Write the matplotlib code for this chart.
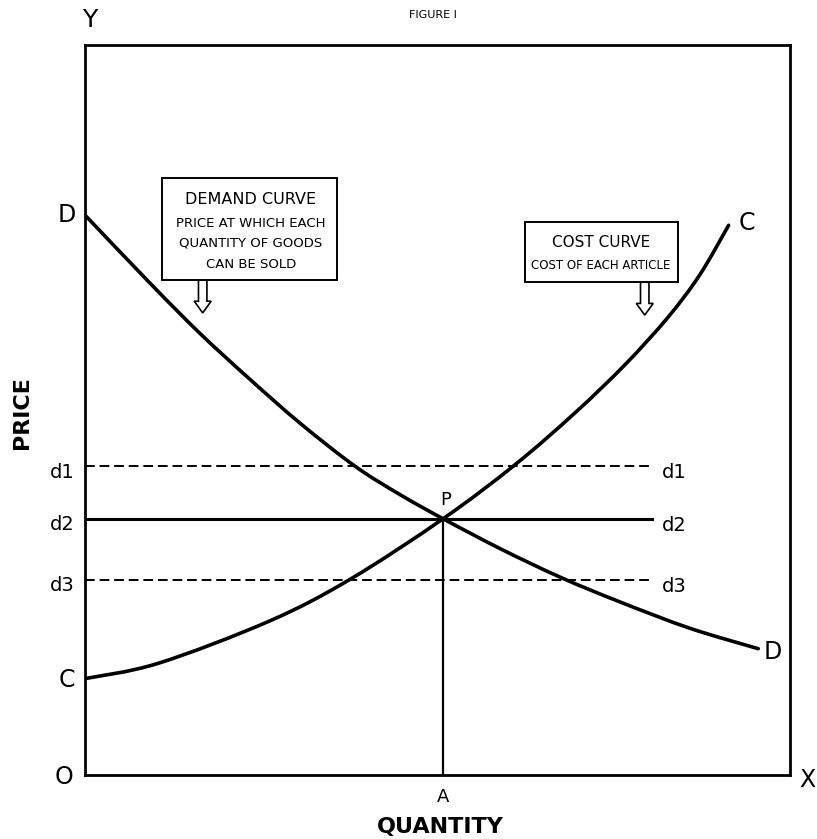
import numpy as np
import matplotlib.pyplot as plt
from matplotlib.patches import Rectangle, FancyArrow, PathPatch
from matplotlib.path import Path

# кривая спроса (количество, цена) в условных единицах 0..100
demand_q = [0, 9.2, 16.3, 23.4, 30.5, 38.3, 44.7, 50.8, 58.9, 67.4, 75.9, 85.8, 95.5]
demand_p = [76.7, 67.4, 60.5, 54.2, 48.2, 42.3, 38.4, 35.1, 31.0, 27.1, 23.7, 20.1, 17.3]

# кривая издержек
cost_q = [0, 10.4, 26.2, 37.6, 50.8, 61.0, 69.5, 76.6, 82.7, 87.2, 91.3]
cost_p = [13.2, 15.3, 21.1, 26.8, 35.1, 42.5, 49.6, 56.2, 62.7, 68.5, 75.3]

# уровни цен d1, d2, d3
levels = [42.3, 35.1, 26.7]
level_names = ['d1', 'd2', 'd3']
level_styles = ['--', '-', '--']
level_end = 80.4

# точка равновесия P
p_q, p_p = 50.8, 35.1


def smooth_path(xs, ys):
    # гладкая кривая через точки (Катмулл-Ром -> кривые Безье)
    pts = np.column_stack([xs, ys])
    n = len(pts)
    verts = [pts[0]]
    codes = [Path.MOVETO]
    for i in range(n - 1):
        p0 = pts[i - 1] if i > 0 else pts[i]
        p1 = pts[i]
        p2 = pts[i + 1]
        p3 = pts[i + 2] if i + 2 < n else pts[i + 1]
        c1 = p1 + (p2 - p0) / 6
        c2 = p2 - (p3 - p1) / 6
        verts += [c1, c2, p2]
        codes += [Path.CURVE4] * 3
    return Path(verts, codes)


fig = plt.figure(figsize=(8.17, 8.39), dpi=100)
ax = fig.add_axes([0.104, 0.0763, 0.8629, 0.8701])
ax.set_xlim(0, 100)
ax.set_ylim(0, 100)
ax.set_xticks([])
ax.set_yticks([])
for s in ax.spines.values():
    s.set_linewidth(2.0)
    s.set_color('black')

for xs, ys in [(demand_q, demand_p), (cost_q, cost_p)]:
    ax.add_patch(PathPatch(smooth_path(xs, ys), fc='none', ec='black', lw=2.6,
                           joinstyle='round', capstyle='round'))

for lv, ls in zip(levels, level_styles):
    if ls == '-':
        ax.plot([0, level_end], [lv, lv], color='black', linewidth=2.2)
    else:
        ax.plot([0, level_end], [lv, lv], color='black', linewidth=1.4, dashes=(5, 2.5))

ax.plot([p_q, p_q], [0, p_p], 'k-', linewidth=1.6)

# подписи
fs = 17
ax.text(0.7, 103.4, 'Y', fontsize=18, ha='center', va='center', clip_on=False)
ax.text(49.4, 104.1, 'FIGURE I', fontsize=8, ha='center', va='center', clip_on=False)
ax.text(-2.6, 76.7, 'D', fontsize=fs, ha='center', va='center', clip_on=False)
ax.text(-2.6, 13.0, 'C', fontsize=fs, ha='center', va='center', clip_on=False)
ax.text(-3.0, -0.3, 'O', fontsize=fs, ha='center', va='center', clip_on=False)
ax.text(50.8, -3.0, 'A', fontsize=13, ha='center', va='center', clip_on=False)
ax.text(102.4, -0.7, 'X', fontsize=fs, ha='center', va='center', clip_on=False)
ax.text(50.4, -7.1, 'QUANTITY', fontsize=16, fontweight='semibold', ha='center', va='center', clip_on=False)
ax.text(-8.9, 49.6, 'PRICE', fontsize=16, fontweight='bold', rotation=90, ha='center', va='center', clip_on=False)
ax.text(51.1, 37.7, 'P', fontsize=13, ha='center', va='center')
ax.text(93.9, 75.6, 'C', fontsize=fs, ha='center', va='center')
ax.text(97.6, 16.8, 'D', fontsize=fs, ha='center', va='center')

for lv, name in zip(levels, level_names):
    ax.text(-1.4, lv - 0.8, name, fontsize=14, ha='right', va='center', clip_on=False)
    ax.text(81.8, lv - 0.9, name, fontsize=14, ha='left', va='center')

# выноска для кривой спроса
ax.add_patch(FancyArrow(16.7, 67.8, 0, -4.5, width=1.2, head_width=2.4, head_length=1.6,
                        length_includes_head=True, fc='white', ec='black', lw=1.2, zorder=3))
ax.add_patch(Rectangle((10.9, 67.8), 24.8, 14.0, fc='white', ec='black', lw=1.4, zorder=4))
ax.text(23.5, 78.8, 'DEMAND CURVE', fontsize=11.5, ha='center', va='center', zorder=5)
ax.text(23.5, 75.6, 'PRICE AT WHICH EACH', fontsize=9.5, ha='center', va='center', zorder=5)
ax.text(23.5, 72.9, 'QUANTITY OF GOODS', fontsize=9.5, ha='center', va='center', zorder=5)
ax.text(23.5, 69.9, 'CAN BE SOLD', fontsize=9.5, ha='center', va='center', zorder=5)

# выноска для кривой издержек
ax.add_patch(FancyArrow(79.4, 67.5, 0, -4.5, width=1.2, head_width=2.4, head_length=1.6,
                        length_includes_head=True, fc='white', ec='black', lw=1.2, zorder=3))
ax.add_patch(Rectangle((62.4, 67.5), 21.7, 8.3, fc='white', ec='black', lw=1.4, zorder=4))
ax.text(73.2, 73.0, 'COST CURVE', fontsize=11, ha='center', va='center', zorder=5)
ax.text(73.2, 69.8, 'COST OF EACH ARTICLE', fontsize=8.5, ha='center', va='center', zorder=5)

plt.savefig('out.png', dpi=100)
